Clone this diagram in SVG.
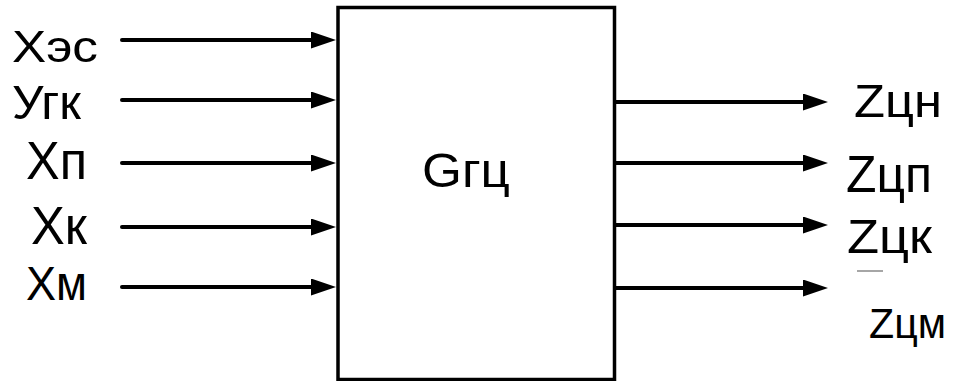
<svg xmlns="http://www.w3.org/2000/svg" width="953" height="381" viewBox="0 0 953 381">
<style>
.lbl{font-family:"Liberation Sans",Arial,sans-serif;fill:#000}
.box{fill:#fff;stroke:#000;stroke-width:3.5}
.con{stroke:#000;stroke-width:4;stroke-linecap:round;fill:none}
</style>
<defs>
<marker id="ah" markerUnits="userSpaceOnUse" markerWidth="25" markerHeight="17" refX="15" refY="8.5" orient="auto">
<path d="M0,0 L25,8.5 L0,17 z" fill="#000"/>
</marker>
</defs>
<rect width="953" height="381" fill="#fff"/>
<g id="block">
<rect class="box" x="338" y="7.5" width="276.5" height="372"/>
<text class="lbl" x="422" y="187" font-size="48" textLength="88" lengthAdjust="spacingAndGlyphs">Gгц</text>
</g>
<g id="inputs">
<text class="lbl" x="12" y="62" font-size="45" textLength="86" lengthAdjust="spacingAndGlyphs">Xэс</text>
<text class="lbl" x="12" y="119" font-size="49" textLength="69" lengthAdjust="spacingAndGlyphs">Угк</text>
<text class="lbl" x="26" y="179" font-size="53" textLength="61" lengthAdjust="spacingAndGlyphs">Xп</text>
<text class="lbl" x="31" y="244" font-size="53" textLength="56" lengthAdjust="spacingAndGlyphs">Xк</text>
<text class="lbl" x="26" y="300" font-size="48" textLength="61" lengthAdjust="spacingAndGlyphs">Xм</text>
</g>
<g id="outputs">
<text class="lbl" x="854" y="117" font-size="47" textLength="88" lengthAdjust="spacingAndGlyphs">Zцн</text>
<text class="lbl" x="846" y="192" font-size="52" textLength="86" lengthAdjust="spacingAndGlyphs">Zцп</text>
<text class="lbl" x="847" y="253" font-size="49" textLength="85" lengthAdjust="spacingAndGlyphs">Zцк</text>
<line x1="857" y1="271" x2="883" y2="271" stroke="#888" stroke-width="1.5"/>
<text class="lbl" x="869" y="338" font-size="43" textLength="77" lengthAdjust="spacingAndGlyphs">Zцм</text>
</g>
<g id="connectors">
<line class="con" x1="122" y1="40" x2="326" y2="40" marker-end="url(#ah)"/>
<line class="con" x1="122" y1="100" x2="326" y2="100" marker-end="url(#ah)"/>
<line class="con" x1="122" y1="163" x2="326" y2="163" marker-end="url(#ah)"/>
<line class="con" x1="122" y1="227" x2="326" y2="227" marker-end="url(#ah)"/>
<line class="con" x1="122" y1="287" x2="326" y2="287" marker-end="url(#ah)"/>
<line class="con" x1="616" y1="102" x2="818" y2="102" marker-end="url(#ah)"/>
<line class="con" x1="616" y1="163" x2="818" y2="163" marker-end="url(#ah)"/>
<line class="con" x1="616" y1="225" x2="818" y2="225" marker-end="url(#ah)"/>
<line class="con" x1="616" y1="288" x2="818" y2="288" marker-end="url(#ah)"/>
</g>
</svg>
